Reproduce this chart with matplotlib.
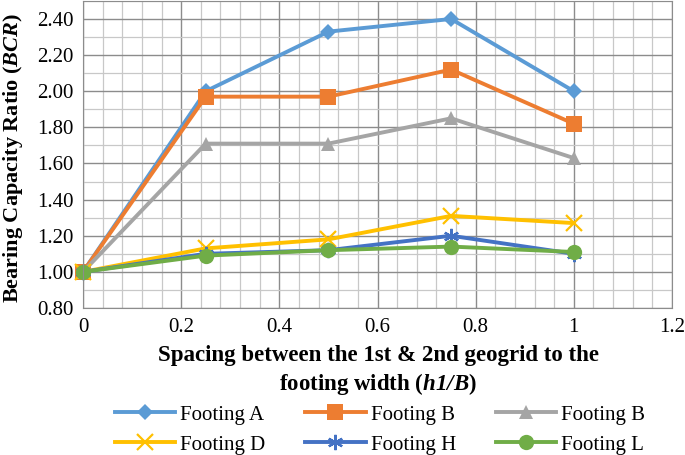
import numpy as np
import matplotlib
matplotlib.use("Agg")
import matplotlib.pyplot as plt
from matplotlib.ticker import MultipleLocator, FormatStrFormatter

plt.rcParams['font.family'] = ['Liberation Serif', 'DejaVu Serif']
plt.rcParams['mathtext.fontset'] = 'custom'
plt.rcParams['mathtext.bfit'] = 'Liberation Serif:italic:bold'
plt.rcParams['mathtext.it'] = 'Liberation Serif:italic'

# data
spacing = [0, 0.25, 0.5, 0.75, 1.0]
footing_a = [1.00, 2.00, 2.33, 2.40, 2.00]
footing_b = [1.00, 1.97, 1.97, 2.12, 1.82]
footing_b2 = [1.00, 1.71, 1.71, 1.85, 1.63]
footing_d = [1.00, 1.13, 1.18, 1.31, 1.27]
footing_h = [1.00, 1.10, 1.12, 1.20, 1.10]
footing_l = [1.00, 1.09, 1.12, 1.14, 1.11]
labels = ['Footing A', 'Footing B', 'Footing B', 'Footing D', 'Footing H', 'Footing L']
x_ticks = [0, 0.2, 0.4, 0.6, 0.8, 1.0, 1.2]
x_ticklabels = ['0', '0.2', '0.4', '0.6', '0.8', '1', '1.2']
y_ticks = [0.8, 1.0, 1.2, 1.4, 1.6, 1.8, 2.0, 2.2, 2.4]

series = [footing_a, footing_b, footing_b2, footing_d, footing_h, footing_l]
colors = ['#5B9BD5', '#ED7D31', '#A5A5A5', '#FFC000', '#4472C4', '#70AD47']
markers = ['D', 's', '^', 'x', (6, 2, 0), 'o']
msizes = [8, 12, 10, 11, 11, 11]

fig = plt.figure(figsize=(6.85, 4.55), dpi=100)
ax = fig.add_axes([83/685, 1 - 308/455, (672-83)/685, 308/455 - 0.002])

handles = []
for vals, c, m, ms, lab in zip(series, colors, markers, msizes, labels):
    if m in ('x', (6, 2, 0)):
        h, = ax.plot(spacing, vals, color=c, lw=2.8, marker=m, ms=ms, mew=1.6,
                     label=lab, clip_on=False)
    else:
        h, = ax.plot(spacing, vals, color=c, lw=2.8, marker=m, ms=ms, mew=0,
                     label=lab, clip_on=False)
    handles.append(h)

ax.set_xlim(0, 1.2)
ax.set_ylim(0.8, 2.5)
ax.set_xticks(x_ticks)
ax.set_xticklabels(x_ticklabels)
ax.xaxis.set_minor_locator(MultipleLocator(0.04))
ax.set_yticks(y_ticks)
ax.yaxis.set_minor_locator(MultipleLocator(0.1))
ax.yaxis.set_major_formatter(FormatStrFormatter('%.2f'))
ax.grid(which='major', color='#8c8c8c', lw=1.0)
ax.grid(which='minor', color='#c8c8c8', lw=0.9)
ax.set_axisbelow(True)
ax.tick_params(which='both', length=0, labelsize=15, pad=7)
for s in ax.spines.values():
    s.set_color('#8c8c8c')

fig.text(13/685, 1 - 158/455, 'Bearing Capacity Ratio ($\\mathbfit{BCR}$)', fontsize=16,
         fontweight='bold', rotation=90, ha='center', va='center')
fig.text(378/685, 1 - 371/455,
         'Spacing between the 1st & 2nd geogrid to the\nfooting width ($\\mathbfit{h1/B}$)',
         fontsize=16.5, fontweight='bold', ha='center', va='center', linespacing=1.3)

# legend filled row by row like the original
order = [0, 3, 1, 4, 2, 5]
fig.legend([handles[i] for i in order], [labels[i] for i in order],
           loc='center', bbox_to_anchor=(380/685, 1 - 430/455), ncol=3, frameon=False,
           fontsize=15, handlelength=2.9, handletextpad=0.25, columnspacing=1.9,
           labelspacing=0.5, borderpad=0, borderaxespad=0)

fig.savefig('out.png', dpi=100)
